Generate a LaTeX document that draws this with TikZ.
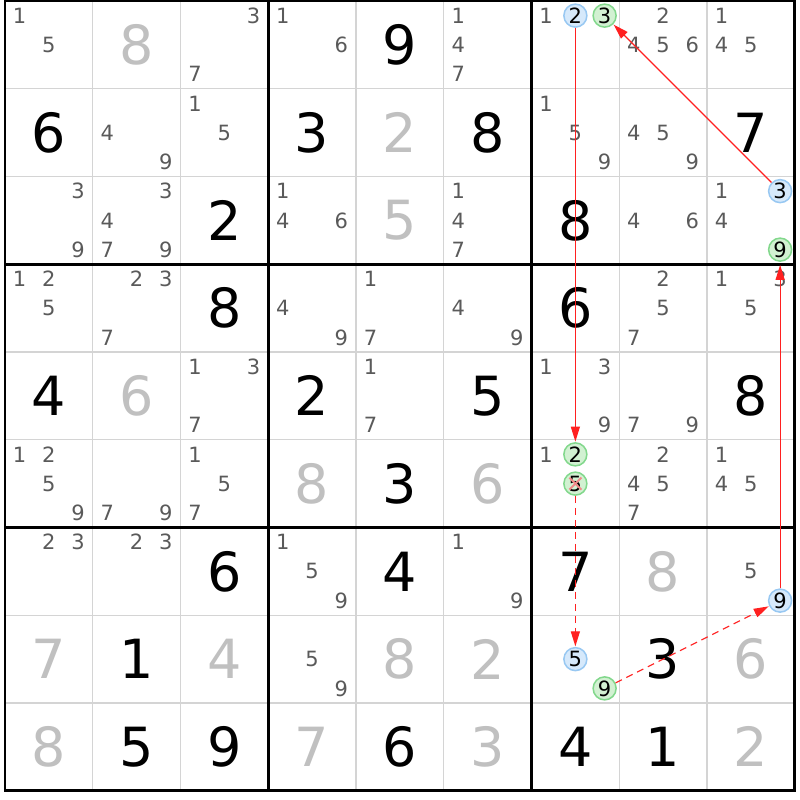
\documentclass[tikz,border=0pt]{standalone}
\usepackage{fontspec}
\setmainfont{DejaVu Sans}
\usetikzlibrary{arrows.meta}
\definecolor{pmgray}{HTML}{5A5A5A}
\definecolor{gvgray}{HTML}{C0C0C0}
\definecolor{thingrid}{HTML}{D4D4D4}
\definecolor{bluefill}{HTML}{D6E9FB}
\definecolor{bluedraw}{HTML}{98C8F2}
\definecolor{greenfill}{HTML}{D2F1D2}
\definecolor{greendraw}{HTML}{82D88C}
\definecolor{linkred}{HTML}{FF2020}
\definecolor{xred}{HTML}{F08A8A}
\begin{document}
\begin{tikzpicture}[x=1pt,y=-1pt,
  thinline/.style={draw=thingrid,line width=1.2pt},
  thickline/.style={draw=black,line width=2.6pt,line cap=rect},
  bigdig/.style={inner sep=0pt,font=\fontsize{54}{54}\selectfont},
  givenblk/.style={text=black},
  givengry/.style={text=gvgray},
  pm/.style={inner sep=0pt,text=pmgray,font=\fontsize{21}{21}\selectfont},
  cand/.style={circle,inner sep=0pt,minimum size=23pt,line width=1.5pt,text=black,font=\fontsize{21}{21}\selectfont},
  bluec/.style={cand,fill=bluefill,draw=bluedraw},
  greenc/.style={cand,fill=greenfill,draw=greendraw},
  link/.style={draw=linkred,line width=1.2pt,-{Triangle[length=15pt,width=9pt]},shorten >=0.5pt},
  dashlink/.style={link,dash pattern=on 7pt off 5pt},
  xmark/.style={draw=xred,line width=1.8pt}
]
\useasboundingbox (0,0) rectangle (800,800);
\fill[white] (0,0) rectangle (800,800);
% thin grid
\foreach \i in {1,2,4,5,7,8}{
  \draw[thinline] ({5+\i*87.75},1) -- ({5+\i*87.75},790.75);
  \draw[thinline] (5,{1+\i*87.75}) -- (794.75,{1+\i*87.75});
}
% thick grid
\foreach \i in {0,3,6,9}{
  \draw[thickline] ({5+\i*87.75},1) -- ({5+\i*87.75},790.75);
  \draw[thickline] (5,{1+\i*87.75}) -- (794.75,{1+\i*87.75});
}
% big digits
\foreach \r/\c/\d/\t in {1/5/9/givenblk,2/1/6/givenblk,2/4/3/givenblk,2/6/8/givenblk,2/9/7/givenblk,
  3/3/2/givenblk,3/7/8/givenblk,4/3/8/givenblk,4/7/6/givenblk,5/1/4/givenblk,5/4/2/givenblk,
  5/6/5/givenblk,5/9/8/givenblk,6/5/3/givenblk,7/3/6/givenblk,7/5/4/givenblk,7/7/7/givenblk,
  8/2/1/givenblk,8/8/3/givenblk,9/2/5/givenblk,9/3/9/givenblk,9/5/6/givenblk,9/7/4/givenblk,9/8/1/givenblk,
  1/2/8/givengry,2/5/2/givengry,3/5/5/givengry,5/2/6/givengry,6/4/8/givengry,6/6/6/givengry,
  7/8/8/givengry,8/1/7/givengry,8/3/4/givengry,8/5/8/givengry,8/6/2/givengry,8/9/6/givengry,
  9/1/8/givengry,9/4/7/givengry,9/6/3/givengry,9/9/2/givengry}{
  \node[bigdig,\t] (g\r\c) at ({5+(\c-0.5)*87.75},{1+(\r-0.5)*87.75}) {\d};
}
% pencil marks
\foreach \r/\c/\ds in {1/1/{1,5},1/3/{3,7},1/4/{1,6},1/6/{1,4,7},1/7/{1},1/8/{2,4,5,6},1/9/{1,4,5},
  2/2/{4,9},2/3/{1,5},2/7/{1,5,9},2/8/{4,5,9},
  3/1/{3,9},3/2/{3,4,7,9},3/4/{1,4,6},3/6/{1,4,7},3/8/{4,6},3/9/{1,4},
  4/1/{1,2,5},4/2/{2,3,7},4/4/{4,9},4/5/{1,7},4/6/{4,9},4/8/{2,5,7},4/9/{1,3,5},
  5/3/{1,3,7},5/5/{1,7},5/7/{1,3,9},5/8/{7,9},
  6/1/{1,2,5,9},6/2/{7,9},6/3/{1,5,7},6/7/{1},6/8/{2,4,5,7},6/9/{1,4,5},
  7/1/{2,3},7/2/{2,3},7/4/{1,5,9},7/6/{1,9},7/9/{5},
  8/4/{5,9}}{
  \foreach \d in \ds {
    \pgfmathsetmacro\px{5+(\c-1)*87.75+(mod(\d-1,3)+0.5)*29.25}
    \pgfmathsetmacro\py{1+(\r-1)*87.75+(floor((\d-1)/3)+0.5)*29.25}
    \node[pm] (p\r\c\d) at (\px,\py) {\d};
  }
}
% circled candidates
\node[bluec]  (A2) at (575.375,15.625) {2};
\node[greenc] (A3) at (604.625,15.625) {3};
\node[bluec]  (B3) at (780.125,191.125) {3};
\node[greenc] (B9) at (780.125,249.625) {9};
\node[greenc] (C2) at (575.375,454.375) {2};
\node[greenc] (C5) at (575.375,483.625) {5};
\node[bluec]  (D9) at (780.125,600.625) {9};
\node[bluec]  (E5) at (575.375,659.125) {5};
\node[greenc] (E9) at (604.625,688.375) {9};
% elimination mark
\draw[xmark] ([shift={(-6,-6)}]C5.center) -- ([shift={(6,6)}]C5.center);
\draw[xmark] ([shift={(-6,6)}]C5.center) -- ([shift={(6,-6)}]C5.center);
% links
\draw[link] (A2) -- (C2);
\draw[link] (B3) -- (A3);
\draw[dashlink] (C5) -- (E5);
\draw[dashlink] (E9) -- (D9);
\draw[link,shorten >=3pt] (D9) -- (B9);
\end{tikzpicture}
\end{document}
